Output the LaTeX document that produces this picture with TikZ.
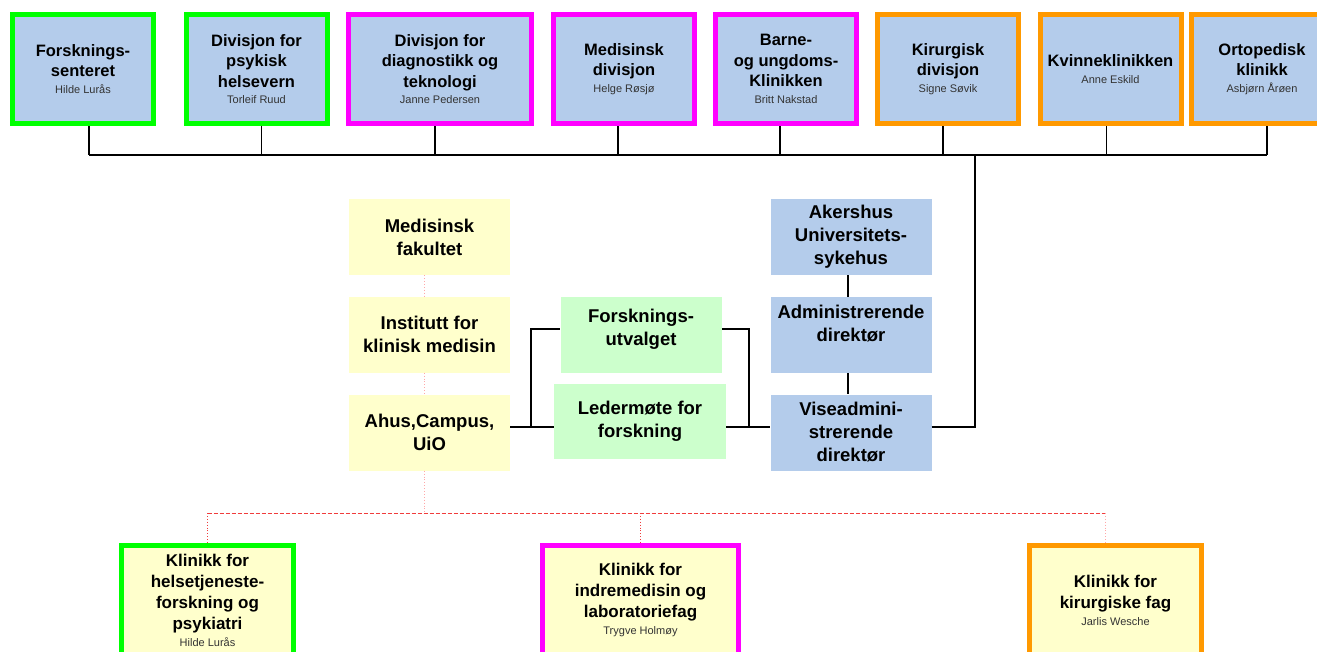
\documentclass[tikz,border=0pt]{standalone}
\usepackage{fontspec}
\setmainfont{Liberation Sans}
\usetikzlibrary{calc}
\definecolor{ahusblue}{HTML}{B4CCEB}
\definecolor{ahusyellow}{HTML}{FFFFCC}
\definecolor{ahusgreen}{HTML}{CCFFCC}
\definecolor{framegreen}{HTML}{00FF00}
\definecolor{framemagenta}{HTML}{FF00FF}
\definecolor{frameorange}{HTML}{FF9900}
\definecolor{linkred}{HTML}{F03C3C}
\definecolor{linkpink}{HTML}{FFA8A8}
\definecolor{leadergray}{HTML}{333333}
\newcommand{\leader}[1]{\\[-4pt]{\fontsize{11}{13}\selectfont\mdseries\color{leadergray}#1}}
\tikzset{
  division/.style={rectangle, draw=#1, line width=5pt, fill=ahusblue, minimum width=141pt, minimum height=109pt, align=center, inner sep=2pt, font=\fontsize{16.5}{20.5}\selectfont\bfseries},
  clinic/.style={division=#1, fill=ahusyellow, minimum width=172pt, font=\fontsize{17}{21}\selectfont\bfseries},
  board/.style={rectangle, fill=#1, minimum width=161pt, minimum height=76pt, align=center, inner sep=2pt, font=\fontsize{18.5}{23}\selectfont\bfseries},
  link/.style={draw=black, line width=1.5pt},
  faint/.style={draw=linkpink, line width=0.9pt, dotted},
  reddots/.style={draw=linkred, line width=0.9pt, dotted},
  dashlink/.style={draw=linkred, line width=1pt, dash pattern=on 4pt off 2pt},
}
\begin{document}
\begin{tikzpicture}[x=1pt, y=-1pt]
  \useasboundingbox (0,0) rectangle (1317,651);
  \node[division=framegreen] (forsksent) at (83,69) {Forsknings-\\senteret\leader{Hilde Lurås}};
  \node[division=framegreen] (psykisk) at (256.5,69) {Divisjon for\\psykisk\\helsevern\leader{Torleif Ruud}};
  \node[division=framemagenta, minimum width=183pt] (diagnostikk) at (440,69) {Divisjon for\\diagnostikk og\\teknologi\leader{Janne Pedersen}};
  \node[division=framemagenta] (medisinsk) at (624,69) {Medisinsk\\divisjon\leader{Helge Røsjø}};
  \node[division=framemagenta] (barne) at (786,69) {Barne-\\og ungdoms-\\Klinikken\leader{Britt Nakstad}};
  \node[division=frameorange] (kirurgisk) at (948,69) {Kirurgisk\\divisjon\leader{Signe Søvik}};
  \node[division=frameorange] (kvinne) at (1110.5,69) {Kvinneklinikken\leader{Anne Eskild}};
  \node[division=frameorange] (ortopedisk) at (1262,69) {Ortopedisk\\klinikk\leader{Asbjørn Årøen}};

  \node[board=ahusyellow] (fakultet) at (429.5,237) {Medisinsk\\fakultet};
  \node[board=ahusyellow] (institutt) at (429.5,334.5) {Institutt for\\klinisk medisin};
  \node[board=ahusyellow] (campus) at (429.5,432.5) {Ahus,Campus,\\UiO};
  \node[board=ahusgreen] (utvalget) at (641,335) {Forsknings-\\utvalget\\[-8pt]~};
  \node[board=ahusgreen, minimum width=172.5pt, minimum height=75pt] (ledermote) at (640,421.5) {Ledermøte for\\forskning};
  \node[board=ahusblue] (sykehus) at (851,237) {Akershus\\Universitets-\\sykehus};
  \node[board=ahusblue] (admdir) at (851,335) {Administrerende\\direktør\\~};
  \node[board=ahusblue] (viseadm) at (851,432.5) {Viseadmini-\\strerende\\direktør};

  \node[clinic=framegreen] (helsetjeneste) at (207.5,600) {Klinikk for\\helsetjeneste-\\forskning og\\psykiatri\leader{Hilde Lurås}};
  \node[clinic=framemagenta, minimum width=196pt] (indremedisin) at (640.5,600) {Klinikk for\\indremedisin og\\laboratoriefag\leader{Trygve Holmøy}};
  \node[clinic=frameorange] (kirurgiske) at (1115.5,600) {Klinikk for\\kirurgiske fag\leader{Jarlis Wesche}};

  \coordinate (topbus) at (0,155);
  \coordinate (midline) at (0,427);
  \coordinate (lowbus) at (0,513);
  \coordinate (splitL) at (531,427);
  \coordinate (splitR) at (749,427);
  \coordinate (rightbus) at (975,427);

  \foreach \n/\dx in {forsksent/6, psykisk/5, diagnostikk/-5, medisinsk/-6, barne/-6, kirurgisk/-5, kvinne/-4, ortopedisk/5}
    \draw[link] ([xshift=\dx pt]\n.south) -- ([xshift=\dx pt]\n.south |- topbus);
  \draw[link] ([xshift=6pt]forsksent.south |- topbus) -- ([xshift=5pt]ortopedisk.south |- topbus);
  \draw[link] (viseadm.east |- rightbus) -- (rightbus) -- (rightbus |- topbus);

  \draw[link] (campus.east |- midline) -- (ledermote.west |- midline);
  \draw[link] (ledermote.east |- midline) -- (viseadm.west |- midline);
  \draw[link] (splitL) |- ([yshift=6pt]utvalget.west);
  \draw[link] (splitR) |- ([yshift=6pt]utvalget.east);
  \draw[link] ([xshift=-3pt]sykehus.south) -- ([xshift=-3pt]admdir.north);
  \draw[link] ([xshift=-3pt]admdir.south) -- ([xshift=-3pt]viseadm.north);

  \draw[faint] ([xshift=-5pt]fakultet.south) -- ([xshift=-5pt]institutt.north);
  \draw[faint] ([xshift=-5pt]institutt.south) -- ([xshift=-5pt]campus.north);
  \draw[faint] ([xshift=-5pt]campus.south) -- ([xshift=-5pt]campus.south |- lowbus);
  \draw[dashlink] (helsetjeneste.north |- lowbus) -- ([xshift=-10pt]kirurgiske.north |- lowbus);
  \draw[reddots] (helsetjeneste.north |- lowbus) -- (helsetjeneste.north);
  \draw[reddots] (indremedisin.north |- lowbus) -- (indremedisin.north);
  \draw[faint] ([xshift=-10pt]kirurgiske.north |- lowbus) -- ([xshift=-10pt]kirurgiske.north);
\end{tikzpicture}
\end{document}
